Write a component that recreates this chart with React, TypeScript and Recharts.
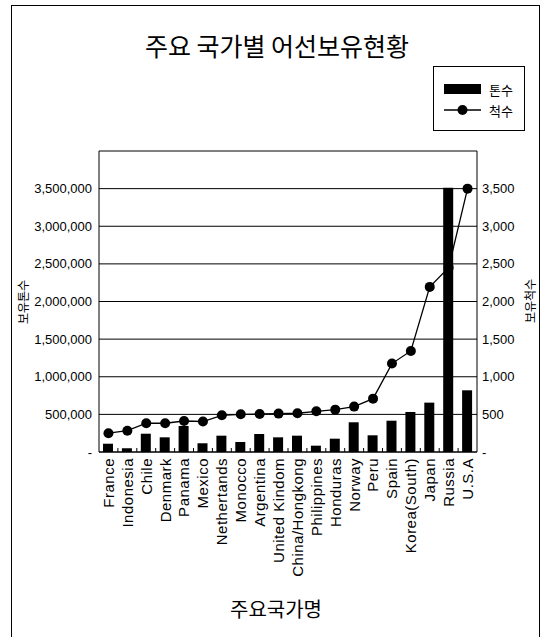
import React from 'react';
import { ComposedChart, Bar, Line, XAxis, YAxis, CartesianGrid } from 'recharts';

// Countries ordered by number of fishing vessels held
const countries = [
  'France', 'Indonesia', 'Chile', 'Denmark', 'Panama', 'Mexico', 'Nethertands',
  'Monocco', 'Argentina', 'United Kindom', 'China/Hongkong', 'Philippines',
  'Honduras', 'Norway', 'Peru', 'Spain', 'Korea(South)', 'Japan', 'Russia', 'U.S.A',
];

// 톤수 (gross tonnage held)
const tonnage = [
  110000, 50000, 243000, 195000, 346000, 116000, 217000, 133000, 239000, 195000,
  217000, 84000, 177000, 395000, 222000, 416000, 532000, 656000, 3510000, 820000,
];

// 척수 (number of vessels held)
const vesselCount = [
  250, 283, 382, 382, 412, 405, 488, 501, 505, 510,
  515, 541, 563, 603, 709, 1175, 1343, 2194, 2450, 3500,
];

const tonTicks = [0, 500000, 1000000, 1500000, 2000000, 2500000, 3000000, 3500000, 4000000];
const countTicks = [0, 500, 1000, 1500, 2000, 2500, 3000, 3500, 4000];

const W = 543;
const H = 637;
const MARGIN = { top: 151, right: 16, bottom: 65, left: 19 };
const LEFT_AXIS_W = 80;
const RIGHT_AXIS_W = 50;
const X_AXIS_H = 120;
const X_TICK_GAP = 6;
const PLOT_LEFT = MARGIN.left + LEFT_AXIS_W;
const PLOT_RIGHT = W - MARGIN.right - RIGHT_AXIS_W;
const BAND = (PLOT_RIGHT - PLOT_LEFT) / countries.length;

const LATIN = '"Liberation Sans", Arial, sans-serif';
const HANGUL = '"Noto Sans CJK KR", "Noto Sans", sans-serif';

const data = countries.map((name, i) => ({ name, tons: tonnage[i], ships: vesselCount[i] }));

const fmtTons = (v: number) => (v === 0 ? '-' : v === 4000000 ? '' : v.toLocaleString('en-US'));
const fmtCount = (v: number) => (v === 0 ? '-' : v === 4000 ? '' : v.toLocaleString('en-US'));

// Rotated country name plus a short inward tick at the boundary between categories
const CountryTick = (props: any) => {
  const { x, y, payload, index } = props;
  const axisY = y - X_TICK_GAP;
  const bx = x + BAND / 2;
  return (
    <g>
      {index < countries.length - 1 && (
        <line x1={bx} x2={bx} y1={axisY} y2={axisY - 4} stroke="#000" strokeWidth={1} />
      )}
      <text
        transform={`translate(${x},${y}) rotate(-90)`}
        textAnchor="end"
        dy="0.36em"
        fontSize={15}
        letterSpacing={0.5}
        fontFamily={LATIN}
        fill="#000"
      >
        {payload.value}
      </text>
    </g>
  );
};

export default function App() {
  return (
    <div style={{ position: 'absolute', left: 0, top: 0, width: W, height: H, background: '#fff' }}>
      <ComposedChart width={W} height={H} data={data} margin={MARGIN}>
        <CartesianGrid yAxisId="tons" horizontal vertical={false} stroke="#000" strokeWidth={1} />
        <XAxis
          dataKey="name"
          height={X_AXIS_H}
          interval={0}
          tickLine={false}
          tickSize={0}
          tickMargin={X_TICK_GAP}
          axisLine={{ stroke: '#000' }}
          tick={<CountryTick />}
        />
        <YAxis
          yAxisId="tons"
          width={LEFT_AXIS_W}
          domain={[0, 4000000]}
          ticks={tonTicks}
          interval={0}
          tickFormatter={fmtTons}
          tickLine={false}
          tickSize={0}
          tickMargin={7}
          axisLine={{ stroke: '#000' }}
          tick={{ fontSize: 13, fill: '#000', fontFamily: LATIN }}
        />
        <YAxis
          yAxisId="ships"
          orientation="right"
          width={RIGHT_AXIS_W}
          domain={[0, 4000]}
          ticks={countTicks}
          interval={0}
          tickFormatter={fmtCount}
          tickLine={false}
          tickSize={0}
          tickMargin={5}
          axisLine={{ stroke: '#000' }}
          tick={{ fontSize: 13, fill: '#000', fontFamily: LATIN }}
        />
        <Line
          yAxisId="ships"
          dataKey="ships"
          type="linear"
          stroke="#000"
          strokeWidth={1.3}
          dot={{ r: 5, fill: '#000', stroke: '#000', strokeWidth: 0 }}
          activeDot={false}
          isAnimationActive={false}
          zIndex={250}
        />
        <Bar yAxisId="tons" dataKey="tons" fill="#000" barSize={10} isAnimationActive={false} zIndex={300} />
      </ComposedChart>

      <svg
        width={W}
        height={H}
        style={{ position: 'absolute', left: 0, top: 0, pointerEvents: 'none' }}
      >
        <rect x={11.5} y={5.5} width={528} height={640} fill="none" stroke="#000" strokeWidth={1} />
        <text x={277} y={45} textAnchor="middle" dominantBaseline="central" fontSize={25} fontFamily={HANGUL} fill="#000">
          주요 국가별 어선보유현황
        </text>

        {/* legend */}
        <rect x={433.5} y={66.5} width={91} height={64} fill="#fff" stroke="#000" strokeWidth={1} />
        <rect x={444} y={84} width={37} height={10} fill="#000" />
        <text x={489} y={89} dominantBaseline="central" fontSize={13} fontFamily={HANGUL} fill="#000">톤수</text>
        <line x1={444} x2={481} y1={110} y2={110} stroke="#000" strokeWidth={1.3} />
        <circle cx={462.5} cy={110} r={5} fill="#000" />
        <text x={489} y={110} dominantBaseline="central" fontSize={13} fontFamily={HANGUL} fill="#000">척수</text>

        {/* axis titles */}
        <text
          transform="translate(22,302) rotate(-90)"
          textAnchor="middle"
          dominantBaseline="central"
          fontSize={12}
          fontFamily={HANGUL}
          fill="#000"
        >
          보유톤수
        </text>
        <text
          transform="translate(529,301) rotate(-90)"
          textAnchor="middle"
          dominantBaseline="central"
          fontSize={12}
          fontFamily={HANGUL}
          fill="#000"
        >
          보유척수
        </text>
        <text x={276} y={608} textAnchor="middle" dominantBaseline="central" fontSize={20} fontFamily={HANGUL} fill="#000">
          주요국가명
        </text>
      </svg>
    </div>
  );
}
